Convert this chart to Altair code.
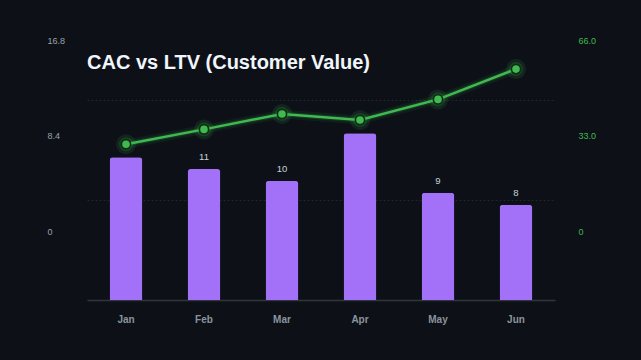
import altair as alt
import pandas as pd

# Monthly acquisition cost (left axis) and lifetime value (right axis)
months = ["Jan", "Feb", "Mar", "Apr", "May", "Jun"]
cac = [12, 11, 10, 14, 9, 8]
ltv = [51.4, 56.3, 61.4, 59.4, 66.2, 76.2]

cac_ticks = [0, 8.4, 16.8]
ltv_ticks = [0, 33.0, 66.0]
cac_max = 25.2
ltv_max = 99.0

BG = "#0d1117"
PURPLE = "#a371f7"
GREEN = "#3fb950"
MUTED = "#8b949e"
FONT = "Liberation Sans"

df = pd.DataFrame({"month": months, "cac": cac, "ltv": ltv})

x = alt.X(
    "month:N",
    sort=months,
    title=None,
    scale=alt.Scale(paddingInner=0.58, paddingOuter=0.29),
    axis=alt.Axis(
        labelColor=MUTED,
        labelFont=FONT,
        labelFontSize=10,
        labelFontWeight="bold",
        labelPadding=14,
        labelAngle=0,
        ticks=False,
        tickSize=0,
        domainColor="#30363d",
        domainWidth=1.5,
        grid=False,
    ),
)

# axis labels drift upward from their gridlines as in the original layout
label_shift = {"expr": "-69 + datum.value * 9 / 16.8"}
label_shift_r = {"expr": "-69 + datum.value * 9 / 66"}

y_cac = alt.Y(
    "cac:Q",
    title=None,
    scale=alt.Scale(domain=[0, cac_max], nice=False, zero=True),
    axis=alt.Axis(
        orient="left",
        values=cac_ticks,
        labelExpr="format(datum.value, '.1~f')",
        labelAlign="left",
        labelBaseline="middle",
        labelPadding=40,
        labelOffset=label_shift,
        labelColor="#9aa1ab",
        labelFont=FONT,
        labelFontSize=9,
        ticks=False,
        tickSize=0,
        domain=False,
        grid=True,
        gridColor="#1f252d",
        gridDash=[2, 2],
        gridWidth=1,
    ),
)

y_ltv = alt.Y(
    "ltv:Q",
    title=None,
    scale=alt.Scale(domain=[0, ltv_max], nice=False, zero=True),
    axis=alt.Axis(
        orient="right",
        values=ltv_ticks,
        labelExpr="datum.value == 0 ? '0' : format(datum.value, '.1f')",
        labelAlign="left",
        labelBaseline="middle",
        labelPadding=23,
        labelOffset=label_shift_r,
        labelColor=GREEN,
        labelFont=FONT,
        labelFontSize=9,
        ticks=False,
        tickSize=0,
        domain=False,
        grid=False,
    ),
)

bars = alt.Chart(df).mark_bar(
    color=PURPLE, cornerRadiusTopLeft=3, cornerRadiusTopRight=3
).encode(x=x, y=y_cac)

# value labels, skipped where they would sit on top of the LTV line
bar_labels = alt.Chart(df).transform_filter(
    f"abs(datum.cac + 1.4 - datum.ltv * {cac_max} / {ltv_max}) > 1.2"
).mark_text(
    baseline="alphabetic", dy=-9, color="#c9d1d9", font=FONT, fontSize=9.5
).encode(x=x, y=y_cac, text=alt.Text("cac:Q"))

glow_wide = alt.Chart(df).mark_line(color=GREEN, strokeWidth=9, opacity=0.08).encode(x=x, y=y_ltv)
glow_mid = alt.Chart(df).mark_line(color=GREEN, strokeWidth=5, opacity=0.15).encode(x=x, y=y_ltv)
line = alt.Chart(df).mark_line(color=GREEN, strokeWidth=2.5).encode(x=x, y=y_ltv)

point_glow = alt.Chart(df).mark_point(
    filled=True, color=GREEN, size=400, opacity=0.12, shape="circle"
).encode(x=x, y=y_ltv)
point_glow2 = alt.Chart(df).mark_point(
    filled=True, color=GREEN, size=200, opacity=0.18, shape="circle"
).encode(x=x, y=y_ltv)
points = alt.Chart(df).mark_point(
    filled=True, fill=GREEN, stroke="#0b2e14", strokeWidth=1.6, size=85, opacity=1, shape="circle"
).encode(x=x, y=y_ltv)

left = alt.layer(bars, bar_labels)
right = alt.layer(glow_wide, glow_mid, line, point_glow, point_glow2, points)

chart = (
    alt.layer(left, right)
    .resolve_scale(y="independent")
    .properties(
        width=468,
        height=300,
        background=BG,
        autosize=alt.AutoSizeParams(type="none"),
        padding={"left": 87, "top": 0, "right": 86, "bottom": 60},
        title=alt.TitleParams(
            "CAC vs LTV (Customer Value)",
            anchor="start",
            frame="group",
            orient="top",
            offset=-89,
            baseline="alphabetic",
            color="#f0f6fc",
            font=FONT,
            fontSize=20,
            fontWeight="bold",
        ),
    )
    .configure_view(stroke=None)
)

chart.save("out.html", embed_options={"renderer": "svg", "actions": False})
